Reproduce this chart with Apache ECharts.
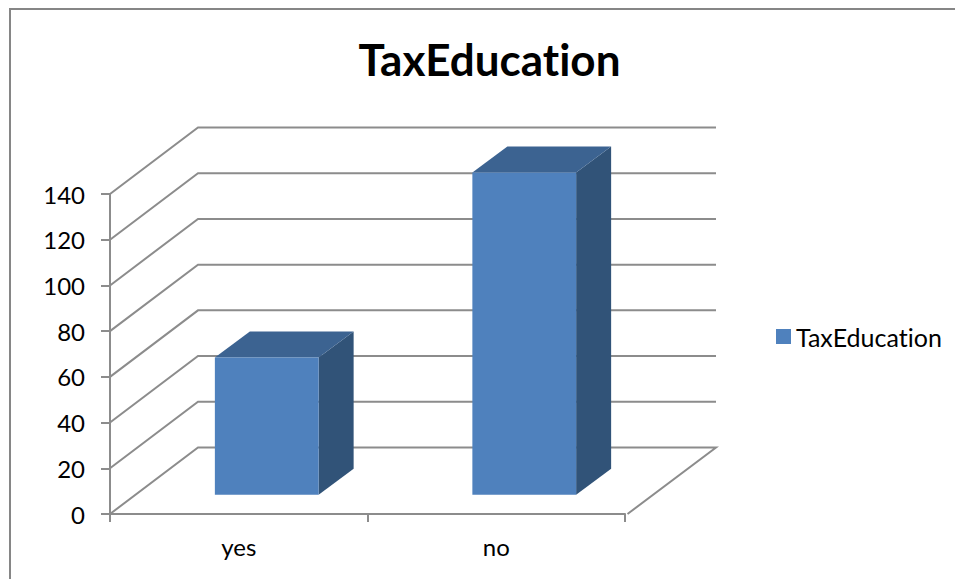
<!DOCTYPE html>
<html>
<head>
<meta charset="utf-8">
<style>
html,body{margin:0;padding:0;background:#fff}
#chart{width:955px;height:579px}
#chart text{font-variant-ligatures:none}
</style>
<script src="https://cdn.jsdelivr.net/npm/echarts@6/dist/echarts.min.js"></script>
</head>
<body>
<div id="chart"></div>
<script>
// Survey counts per answer
const categories = ['yes', 'no'];
const taxEducationValues = [60, 141];
const valueTicks = [0, 20, 40, 60, 80, 100, 120, 140];

// Oblique projection of the 3D box, in pixels
const WALL = { dx: 88, dy: -66.5 };
const BAR_FRONT = { dx: 28, dy: -19.3 };
const BAR_DEPTH = { dx: 35, dy: -26 };
const BAR_WIDTH_RATIO = 0.403;
const LINE = '#8c8c8c';

function poly(points, fill) {
  return { type: 'polygon', shape: { points }, style: { fill, stroke: null } };
}

// Wall and floor lines: one bent line per value tick
function renderGridLine(params, api) {
  const v = api.value(0);
  const band = api.size([1, 0])[0];
  const first = api.coord([0, v]);
  const last = api.coord([categories.length - 1, v]);
  const left = first[0] - band / 2;
  const right = last[0] + band / 2;
  const y = first[1];
  const pts = [
    [left, y],
    [left + WALL.dx, y + WALL.dy],
    [right + WALL.dx + 3, y + WALL.dy]
  ];
  if (v === 0) pts.push([right + 2.5, y]);
  return {
    type: 'polyline',
    shape: { points: pts },
    style: { stroke: LINE, lineWidth: 2, fill: null },
    silent: true
  };
}

// Each bar is a front face plus a top and a side face behind it
function renderBar3D(params, api) {
  const idx = api.value(0);
  const val = api.value(1);
  const top = api.coord([idx, val]);
  const base = api.coord([idx, 0]);
  const w = api.size([1, 0])[0] * BAR_WIDTH_RATIO;
  const x0 = top[0] - w / 2 + BAR_FRONT.dx;
  const x1 = x0 + w;
  const yT = top[1] + BAR_FRONT.dy;
  const yB = base[1] + BAR_FRONT.dy;
  const dx = BAR_DEPTH.dx, dy = BAR_DEPTH.dy;
  return {
    type: 'group',
    children: [
      poly([[x1, yB], [x1 + dx, yB + dy], [x1 + dx, yT + dy], [x1, yT]], '#315378'),
      poly([[x0, yT], [x0 + dx, yT + dy], [x1 + dx, yT + dy], [x1, yT]], '#3c6391'),
      poly([[x0, yT], [x1, yT], [x1, yB], [x0, yB]], '#4f81bd')
    ]
  };
}

const chart = echarts.init(document.getElementById('chart'), null, { renderer: 'svg' });
const FONT = 'Lato, "Open Sans", sans-serif';

chart.setOption({
  animation: false,
  backgroundColor: '#ffffff',
  textStyle: { fontFamily: FONT },
  title: {
    text: 'TaxEducation',
    left: 484.5,
    top: 32,
    textAlign: 'center',
    textStyle: { fontFamily: FONT, fontWeight: 'bold', fontSize: 44, color: '#000' }
  },
  legend: {
    data: ['TaxEducation'],
    left: 771,
    top: 319,
    icon: 'rect',
    itemWidth: 15,
    itemHeight: 15,
    itemGap: 7,
    textStyle: { fontFamily: FONT, fontSize: 25, color: '#000', padding: [0, 0, 0, 0] }
  },
  grid: { left: 110, top: 194, width: 515, height: 320, containLabel: false },
  xAxis: {
    type: 'category',
    data: categories,
    boundaryGap: true,
    axisLine: { lineStyle: { color: LINE, width: 2 } },
    axisTick: { show: true, alignWithLabel: false, length: 8, lineStyle: { color: LINE, width: 2 } },
    axisLabel: { fontFamily: FONT, fontSize: 24, color: '#000', margin: 20 },
    splitLine: { show: false }
  },
  yAxis: {
    type: 'value',
    min: 0,
    max: 140,
    interval: 20,
    axisLine: { show: true, lineStyle: { color: LINE, width: 2 } },
    axisTick: { show: true, length: 9, lineStyle: { color: LINE, width: 2 } },
    axisLabel: { fontFamily: FONT, fontSize: 24, color: '#000', margin: 25 },
    splitLine: { show: false }
  },
  graphic: [
    // Chart-area frame, open on the right and at the bottom of the page
    {
      type: 'polyline',
      silent: true,
      shape: { points: [[10, 579], [10, 9], [955, 9]] },
      style: { stroke: '#868686', lineWidth: 2, fill: null }
    }
  ],
  series: [
    {
      name: 'grid-lines',
      type: 'custom',
      renderItem: renderGridLine,
      data: valueTicks.map(v => [v]),
      encode: { y: 0 },
      silent: true,
      z: 1
    },
    {
      name: 'TaxEducation',
      type: 'custom',
      renderItem: renderBar3D,
      data: taxEducationValues.map((v, i) => [i, v]),
      encode: { x: 0, y: 1 },
      itemStyle: { color: '#4f81bd' },
      z: 3
    }
  ]
});
</script>
</body>
</html>
